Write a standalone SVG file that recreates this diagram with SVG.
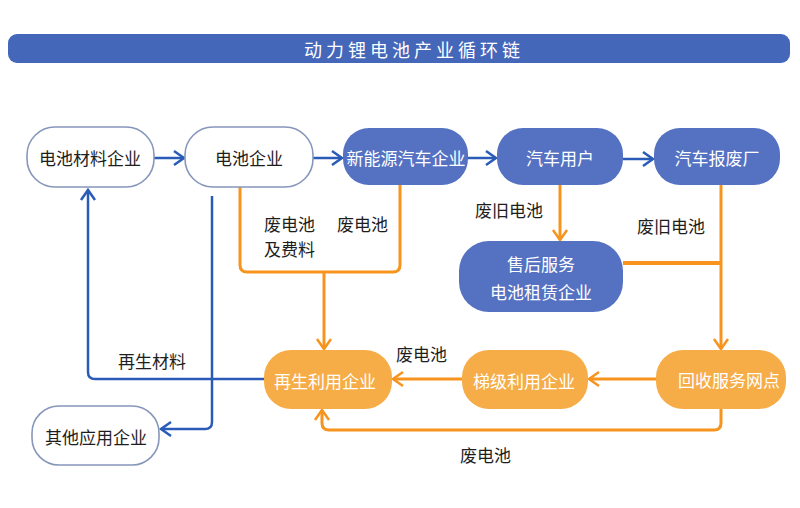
<svg xmlns="http://www.w3.org/2000/svg" width="800" height="508" viewBox="0 0 800 508">
<style>
text{font-family:"Noto Sans CJK SC","Noto Sans",sans-serif;font-size:17px;dominant-baseline:central}
.nt{text-anchor:middle}
.w{fill:#ffffff}
.k{fill:#1e1e1e}
.out{fill:#ffffff;stroke:#8797bb;stroke-width:1.6}
.bf{fill:#5572c2}
.of{fill:#f6ad47}
.bl{fill:none;stroke:#2a5bb7;stroke-width:2.5}
.ol{fill:none;stroke:#f7941d;stroke-width:3}
</style>
<defs>
<marker id="ab" markerUnits="userSpaceOnUse" markerWidth="16" markerHeight="18" viewBox="-12 -9 14 18" refX="0" refY="0" orient="auto">
<path d="M-10,-7 L0,0 L-10,7" fill="none" stroke="#2a5bb7" stroke-width="2.5"/>
</marker>
<marker id="ao" markerUnits="userSpaceOnUse" markerWidth="16" markerHeight="18" viewBox="-12 -9 14 18" refX="0" refY="0" orient="auto">
<path d="M-10,-7 L0,0 L-10,7" fill="none" stroke="#f7941d" stroke-width="2.5"/>
</marker>
</defs>
<g id="title">
<rect x="8" y="34" width="782" height="29" rx="9" fill="#4467b9"/>
<text x="304" y="49" class="w" style="font-size:18px;letter-spacing:4px">动力锂电池产业循环链</text>
</g>
<g id="connectors">
<path class="bl" d="M154,158 H184" marker-end="url(#ab)"/>
<path class="bl" d="M313,158 H342" marker-end="url(#ab)"/>
<path class="bl" d="M468,158 H496" marker-end="url(#ab)"/>
<path class="bl" d="M623,159 H653" marker-end="url(#ab)"/>
<path class="bl" d="M264,379 H95 Q88,379 88,372 V190" marker-end="url(#ab)"/>
<path class="bl" d="M212,196 V422 Q212,429 205,429 H161" marker-end="url(#ab)"/>
<path class="ol" d="M240,187 V265 Q240,272 247,272 H393 Q400,272 400,265 V185"/>
<path class="ol" d="M324,272 V349" marker-end="url(#ao)"/>
<path class="ol" d="M560,185 V240" marker-end="url(#ao)"/>
<path class="ol" d="M721,185 V349" marker-end="url(#ao)"/>
<path class="ol" d="M623,263 H721" style="stroke-width:4"/>
<path class="ol" d="M656,379 H589" marker-end="url(#ao)"/>
<path class="ol" d="M462,379 H393" marker-end="url(#ao)"/>
<path class="ol" d="M721,409 V423 Q721,430 714,430 H329 Q322,430 322,423 V410" marker-end="url(#ao)"/>
</g>
<g id="labels">
<text x="264" y="223" class="k">废电池</text>
<text x="264" y="248" class="k">及费料</text>
<text x="337" y="223" class="k">废电池</text>
<text x="475" y="209" class="k">废旧电池</text>
<text x="637" y="225" class="k">废旧电池</text>
<text x="396" y="353" class="k">废电池</text>
<text x="118" y="360" class="k">再生材料</text>
<text x="460" y="454" class="k">废电池</text>
</g>
<g id="n1"><rect class="out" x="27" y="127" width="127" height="60" rx="28"/><text class="nt k" x="90" y="157">电池材料企业</text></g>
<g id="n2"><rect class="out" x="185" y="127" width="128" height="60" rx="28"/><text class="nt k" x="249" y="157">电池企业</text></g>
<g id="n3"><rect class="bf" x="343" y="128" width="125" height="57" rx="26"/><text class="nt w" x="406" y="157">新能源汽车企业</text></g>
<g id="n4"><rect class="bf" x="497" y="128" width="126" height="57" rx="26"/><text class="nt w" x="560" y="157">汽车用户</text></g>
<g id="n5"><rect class="bf" x="654" y="128" width="126" height="57" rx="26"/><text class="nt w" x="717" y="157">汽车报废厂</text></g>
<g id="n6"><rect class="bf" x="459" y="241" width="164" height="71" rx="30"/><text class="nt w" x="541" y="263">售后服务</text><text class="nt w" x="541" y="291">电池租赁企业</text></g>
<g id="n7"><rect class="of" x="264" y="350" width="128" height="59" rx="27"/><text class="nt w" x="325" y="380">再生利用企业</text></g>
<g id="n8"><rect class="of" x="462" y="350" width="126" height="59" rx="27"/><text class="nt w" x="524" y="380">梯级利用企业</text></g>
<g id="n9"><rect class="of" x="656" y="350" width="130" height="59" rx="27"/><text class="nt w" x="729" y="379">回收服务网点</text></g>
<g id="n10"><rect class="out" x="32" y="406" width="127" height="59" rx="27"/><text class="nt k" x="96" y="436">其他应用企业</text></g>
</svg>
